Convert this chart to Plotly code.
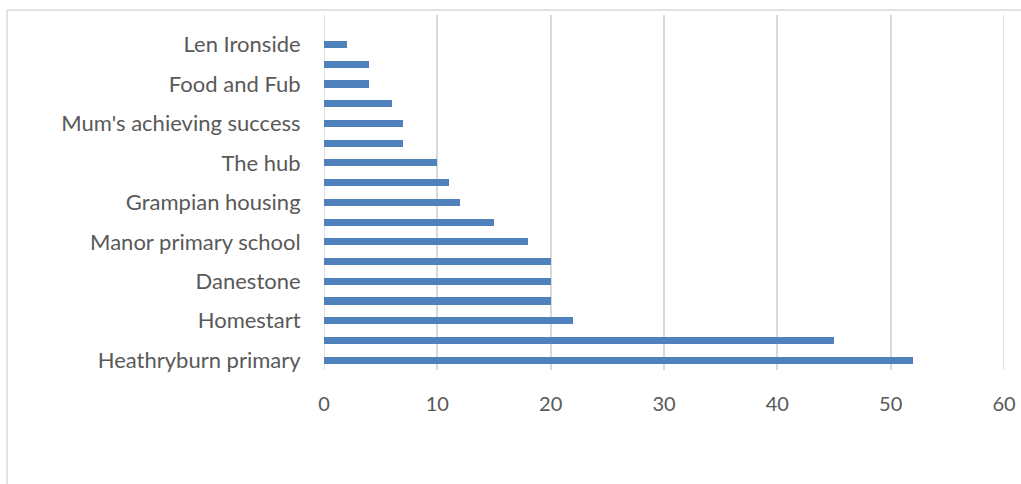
import plotly.graph_objects as go

# Categories from bottom to top (unlabelled categories shown blank in the reference)
labels = ["Heathryburn primary", "", "Homestart", "", "Danestone", "",
          "Manor primary school", "", "Grampian housing", "", "The hub", "",
          "Mum's achieving success", "", "Food and Fub", "", "Len Ironside"]
values = [52, 45, 22, 20, 20, 20, 18, 15, 12, 11, 10, 7, 7, 6, 4, 4, 2]
x_ticks = [0, 10, 20, 30, 40, 50, 60]

positions = list(range(len(values)))
tick_pos = [p for p, l in zip(positions, labels) if l]
tick_txt = [l for l in labels if l]

W, H = 1021, 484
L, R, T, B = 324, 17, 15, 114
GRID = "#D9D9D9"

fig = go.Figure(go.Bar(
    x=values, y=positions, orientation="h",
    marker=dict(color="#4F81BD", line=dict(width=0)),
    width=0.36,
))

yfont = dict(family="Lato, 'Open Sans', sans-serif", size=22, color="#595959")
xfont = dict(family="Lato, 'Open Sans', sans-serif", size=20, color="#595959")

fig.update_layout(
    width=W, height=H,
    margin=dict(l=L, r=R, t=T, b=B, pad=0, autoexpand=False),
    paper_bgcolor="white", plot_bgcolor="white",
    showlegend=False,
    bargap=0,
    xaxis=dict(range=[x_ticks[0], x_ticks[-1]], tickvals=x_ticks,
               ticktext=[str(v) for v in x_ticks],
               showgrid=True, gridcolor=GRID, gridwidth=1.5,
               zeroline=False, showline=False, automargin=False,
               ticks="outside", ticklen=16, tickcolor="rgba(0,0,0,0)",
               tickfont=xfont, fixedrange=True),
    yaxis=dict(range=[-0.5, 17.5], tickvals=tick_pos, ticktext=tick_txt,
               showgrid=False, zeroline=False, showline=False, automargin=False,
               ticks="outside", ticklen=18, tickcolor="rgba(0,0,0,0)",
               tickfont=yfont, fixedrange=True),
)

# gridlines at the two ends of the value axis (Plotly omits edge gridlines)
for v in (x_ticks[0], x_ticks[-1]):
    fig.add_shape(type="line", xref="x", yref="paper", x0=v, x1=v, y0=0, y1=1,
                  layer="below", line=dict(color=GRID, width=1.5))

# chart frame (top and left border of the chart area)
pw, ph = W - L - R, H - T - B
fx = (7 - L) / pw
fy = 1 + (T - 10) / ph
fig.add_shape(type="line", xref="paper", yref="paper",
              x0=fx, x1=(W - L) / pw + 0.02, y0=fy, y1=fy,
              line=dict(color=GRID, width=1.5))
fig.add_shape(type="line", xref="paper", yref="paper",
              x0=fx, x1=fx, y0=fy, y1=-(B) / ph - 0.02,
              line=dict(color=GRID, width=1.5))

fig.write_html("out.html")
